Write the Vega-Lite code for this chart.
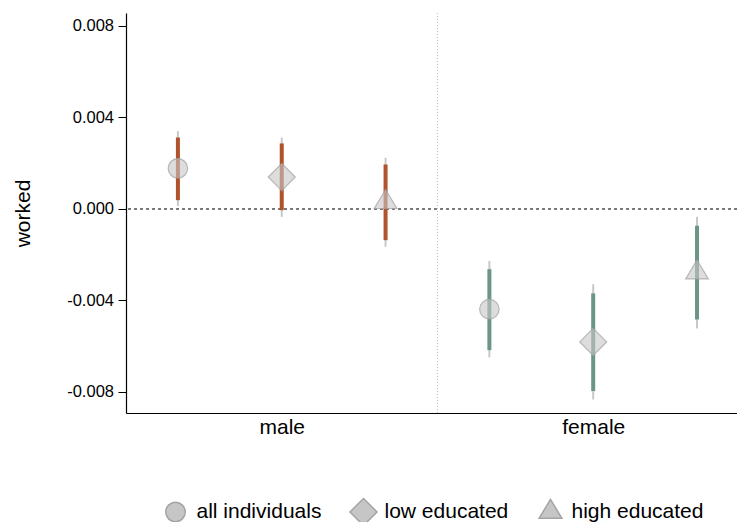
{
  "$schema": "https://vega.github.io/schema/vega-lite/v6.json",
  "width": 611,
  "height": 400,
  "autosize": "none",
  "padding": {"left": 126, "top": 13, "right": 0, "bottom": 109},
  "config": {
    "font": "Liberation Sans",
    "view": {"stroke": null},
    "axis": {"grid": false, "domainColor": "#000000", "domainWidth": 1.2, "tickColor": "#000000", "labelColor": "#000000", "titleColor": "#000000"}
  },
  "data": {
    "values": [
      {"pos": 1, "sex": "male", "sample": "all individuals", "b": 0.00177, "lo95": 0.00012, "hi95": 0.0034, "lo90": 0.00038, "hi90": 0.00312},
      {"pos": 2, "sex": "male", "sample": "low educated", "b": 0.00139, "lo95": -0.00035, "hi95": 0.00312, "lo90": -0.00006, "hi90": 0.00286},
      {"pos": 3, "sex": "male", "sample": "high educated", "b": 0.00029, "lo95": -0.00166, "hi95": 0.00223, "lo90": -0.00137, "hi90": 0.00194},
      {"pos": 4, "sex": "female", "sample": "all individuals", "b": -0.00439, "lo95": -0.0065, "hi95": -0.00228, "lo90": -0.00618, "hi90": -0.00264},
      {"pos": 5, "sex": "female", "sample": "low educated", "b": -0.00582, "lo95": -0.00834, "hi95": -0.0033, "lo90": -0.00797, "hi90": -0.0037},
      {"pos": 6, "sex": "female", "sample": "high educated", "b": -0.00279, "lo95": -0.00523, "hi95": -0.00035, "lo90": -0.00484, "hi90": -0.00074}
    ]
  },
  "encoding": {
    "x": {
      "field": "pos",
      "type": "quantitative",
      "scale": {"domain": [0.5, 6.385], "nice": false, "zero": false},
      "axis": {
        "title": null,
        "values": [2, 5],
        "labelExpr": "datum.value == 2 ? 'male' : 'female'",
        "ticks": false,
        "labelFontSize": 21,
        "labelPadding": 3,
        "labelFlush": false
      }
    }
  },
  "layer": [
    {
      "mark": {"type": "rule", "color": "#7a7a7a", "strokeWidth": 1.4, "strokeDash": [3, 3]},
      "encoding": {"y": {"datum": 0, "type": "quantitative"}, "x": null}
    },
    {
      "mark": {"type": "rule", "color": "#c4c4c4", "strokeWidth": 1, "strokeDash": [1, 2]},
      "encoding": {"x": {"datum": 3.5, "type": "quantitative"}}
    },
    {
      "mark": {"type": "rule", "color": "#c8c8c8", "strokeWidth": 2},
      "encoding": {
        "y": {
          "field": "lo95",
          "type": "quantitative",
          "scale": {"domain": [-0.00893, 0.008565], "nice": false, "zero": false},
          "axis": {
            "title": "worked",
            "titleFontSize": 21,
            "titleFontWeight": "normal",
            "titlePadding": 33,
            "values": [-0.008, -0.004, 0, 0.004, 0.008],
            "labelExpr": "replace(format(datum.value, '.3f'), '−', '-')",
            "labelFontSize": 16.5,
            "labelPadding": 4.5,
            "tickSize": 8
          }
        },
        "y2": {"field": "hi95"}
      }
    },
    {
      "mark": {"type": "rule", "strokeWidth": 4},
      "encoding": {
        "y": {"field": "lo90", "type": "quantitative"},
        "y2": {"field": "hi90"},
        "color": {
          "field": "sex",
          "type": "nominal",
          "scale": {"domain": ["male", "female"], "range": ["#b0522b", "#6b9684"]},
          "legend": null
        }
      }
    },
    {
      "mark": {"type": "point", "filled": true, "size": 300, "fill": "#c6c6c6", "fillOpacity": 0.6, "stroke": "#a4a4a4", "strokeOpacity": 0.75, "strokeWidth": 1.2, "opacity": 1},
      "encoding": {
        "y": {"field": "b", "type": "quantitative"},
        "shape": {
          "field": "sample",
          "type": "nominal",
          "scale": {
            "domain": ["all individuals", "low educated", "high educated"],
            "range": [
              "M-1.56,-1.56M1.56,1.56M1.125,0A1.125,1.125,0,1,1,-1.125,0A1.125,1.125,0,1,1,1.125,0Z",
              "M-1.56,-1.56M1.56,1.56M0,-1.56L1.56,0L0,1.56L-1.56,0Z",
              "M-1.56,-1.56M1.56,1.56M0,-1.46L1.31,0.73L-1.31,0.73Z"
            ]
          },
          "legend": {
            "title": null,
            "orient": "none",
            "direction": "horizontal",
            "legendX": 39,
            "legendY": 488,
            "padding": 0,
            "symbolSize": 300,
            "labelFontSize": 21,
            "labelColor": "#000000",
            "labelOffset": 10.5,
            "columnPadding": 24,
            "labelLimit": 0,
            "encode": {
              "symbols": {
                "update": {
                  "fill": {"value": "#d6d6d6"},
                  "fillOpacity": {"value": 1},
                  "stroke": {"value": "#bcbcbc"},
                  "strokeOpacity": {"value": 1},
                  "strokeWidth": {"value": 1}
                }
              }
            }
          }
        }
      }
    }
  ]
}
